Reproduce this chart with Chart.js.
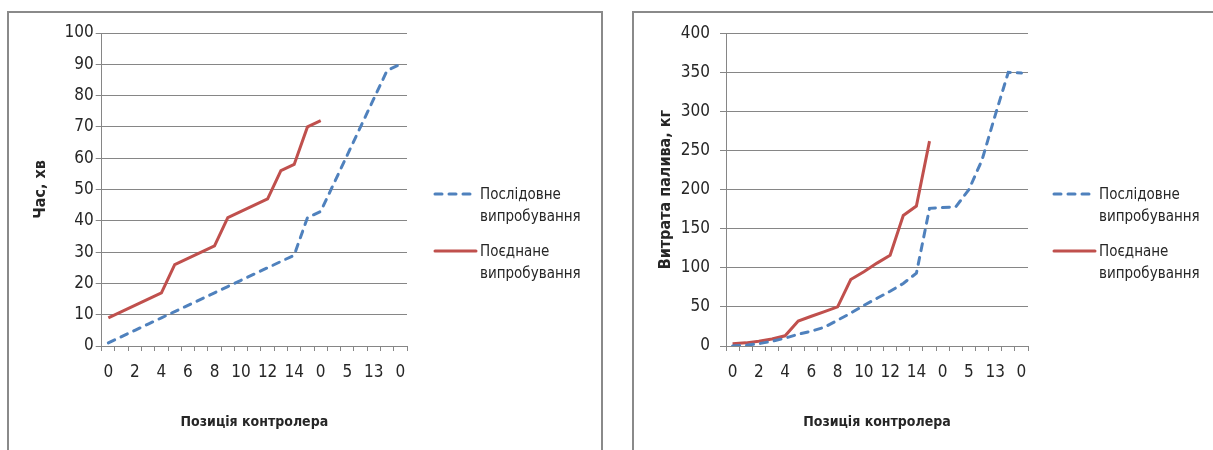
<!DOCTYPE html>
<html>
<head>
<meta charset="utf-8">
<script src="https://cdn.jsdelivr.net/npm/chart.js@4.4.0/dist/chart.umd.min.js"></script>
<style>
  body { margin: 0; background: #fff; width: 1213px; height: 450px; overflow: hidden; position: relative; }
  .panel { position: absolute; border: 2px solid #8a8a8a; background: #fff; }
  canvas { position: absolute; }
  .legend { position: absolute; font-family: 'Liberation Sans Narrow', 'DejaVu Sans Condensed', sans-serif; font-size: 15px; color: #262626; }
  .item { position: absolute; white-space: nowrap; line-height: 22px; }
  .item svg { position: absolute; left: 0; top: 5px; }
  .item span { position: absolute; left: 47px; top: -11px; }
</style>
</head>
<body>
<div class="panel" style="left:7px; top:11px; width:592px; height:460px;"></div>
<div class="panel" style="left:632px; top:11px; width:600px; height:460px;"></div>
<canvas id="timeChart" width="592" height="437" style="left:9px; top:13px;"></canvas>
<canvas id="fuelChart" width="578" height="437" style="left:635px; top:13px;"></canvas>

<div class="legend" id="legendLeft" style="left:433px; top:0;"></div>
<div class="legend" id="legendRight" style="left:1052px; top:0;"></div>

<script>
// controller positions (only every second one is labelled on the axis)
const positions = ['0', '1', '2', '3', '4', '5', '6', '7', '8', '9', '10', '11', '12', '13', '14', '15', '0', '2', '5', '9', '13', '15', '0'];

// time, min
const seqTime = [1, 3, 5, 7, 9, 11, 13, 15, 17, 19, 21, 23, 25, 27, 29, 41, 43, 52, 61, 70, 79, 88, 90];
const combTime = [9, 11, 13, 15, 17, 26, 28, 30, 32, 41, 43, 45, 47, 56, 58, 70, 72];

// fuel consumption, kg
const seqFuel = [0, 1, 3, 6, 10, 15, 19, 24, 33, 42, 52, 61, 70, 80, 93, 176, 177, 178, 200, 238, 295, 350, 349];
const combFuel = [3, 4, 6, 9, 13, 32, 38, 44, 50, 85, 95, 106, 116, 167, 179, 262];

const seriesNames = ['Послідовне випробування', 'Поєднане випробування'];
const xTitle = 'Позиція контролера';

const BLUE = '#4f81bd';
const RED = '#c0504d';
const GRID = '#868686';
const TEXT = '#262626';
const FONT = "'Liberation Sans Narrow', 'DejaVu Sans Condensed', sans-serif";

const makeChart = (id, seq, comb, yTitle, yMax, yStep, opts) => {
  const ctx = document.getElementById(id);
  return new Chart(ctx, {
    type: 'line',
    data: {
      labels: positions,
      datasets: [
        {
          label: seriesNames[0],
          data: seq,
          borderColor: BLUE,
          borderWidth: 3,
          borderDash: [7, 7],
          borderCapStyle: 'round',
          pointRadius: 0,
          tension: 0,
          fill: false,
        },
        {
          label: seriesNames[1],
          data: comb,
          borderColor: RED,
          borderWidth: 3,
          pointRadius: 0,
          tension: 0,
          fill: false,
        },
      ],
    },
    options: {
      responsive: false,
      animation: false,
      layout: { padding: { left: 0, right: opts.padRight, top: 20, bottom: 0 } },
      plugins: { legend: { display: false }, tooltip: { enabled: false } },
      scales: {
        x: {
          offset: true,
          grid: { offset: true, drawOnChartArea: false, drawTicks: true, tickLength: 5, color: GRID },
          border: { color: GRID, width: 1 },
          ticks: {
            autoSkip: false,
            maxRotation: 0,
            padding: 11,
            color: TEXT,
            font: { family: FONT, size: 17 },
            callback: function (value, index) {
              return index % 2 === 0 ? this.getLabelForValue(value) : '';
            },
          },
          title: {
            display: true,
            text: xTitle,
            color: TEXT,
            font: { family: FONT, size: 14, weight: 'bold' },
            padding: { top: 0, bottom: 19 },
          },
          afterFit: (scale) => { scale.height = 104; },
        },
        y: {
          min: 0,
          max: yMax,
          grid: { color: GRID, tickLength: 6 },
          border: { color: GRID, width: 1 },
          ticks: {
            stepSize: yStep,
            padding: opts.tickPad,
            color: TEXT,
            font: { family: FONT, size: 17 },
          },
          title: {
            display: true,
            text: yTitle,
            color: TEXT,
            font: { family: FONT, size: 16, weight: 'bold' },
            padding: { top: opts.titlePad, bottom: 0 },
          },
          afterFit: (scale) => { scale.width = opts.axisWidth; },
        },
      },
    },
  });
};

makeChart('timeChart', seqTime, combTime, 'Час, хв', 100, 10,
  { padRight: 194, axisWidth: 92.7, tickPad: 2, titlePad: 22 });
makeChart('fuelChart', seqFuel, combFuel, 'Витрата палива, кг', 400, 50,
  { padRight: 185, axisWidth: 91, tickPad: 10, titlePad: 21 });

// legend as html next to each chart
const buildLegend = (id) => {
  const box = document.getElementById(id);
  const items = [
    { name: seriesNames[0], color: BLUE, dash: '7 7', top: 194 },
    { name: seriesNames[1], color: RED, dash: '', top: 251 },
  ];
  items.forEach((it) => {
    const div = document.createElement('div');
    div.className = 'item';
    div.style.top = (it.top - 11) + 'px';
    const parts = it.name.split(' ');
    div.innerHTML =
      '<svg width="46" height="12"><line x1="2" y1="6" x2="43" y2="6" stroke="' + it.color +
      '" stroke-width="3" stroke-linecap="round"' + (it.dash ? ' stroke-dasharray="' + it.dash + '"' : '') +
      '/></svg><span style="top:0">' + parts[0] + '<br>' + parts[1] + '</span>';
    box.appendChild(div);
  });
};
buildLegend('legendLeft');
buildLegend('legendRight');
</script>
</body>
</html>
